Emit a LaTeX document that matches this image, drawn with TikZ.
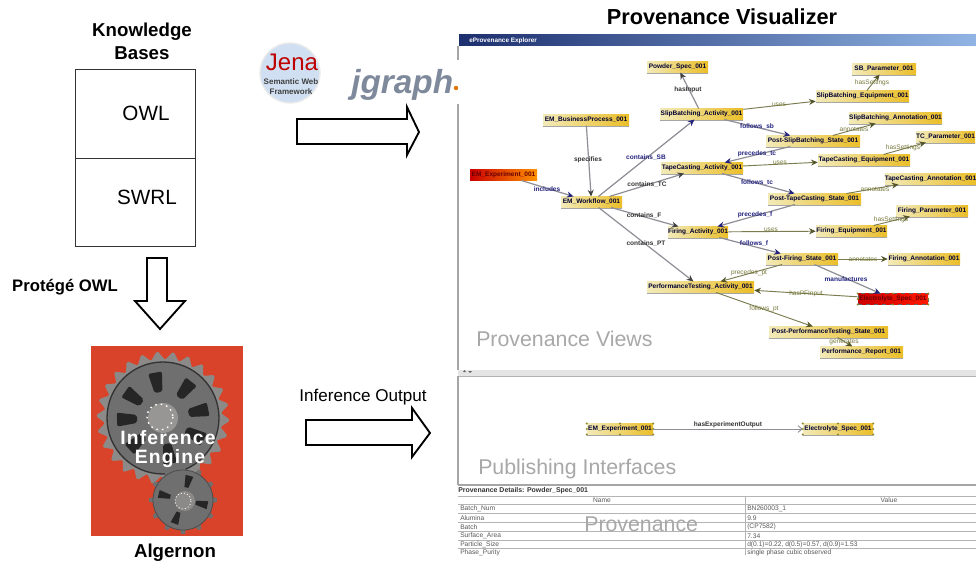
\documentclass[tikz,border=0pt]{standalone}
\usepackage{fontspec}
\setmainfont{Liberation Sans}
\usetikzlibrary{arrows.meta,calc}
\definecolor{edgegray}{HTML}{8E8E96}
\definecolor{navyink}{HTML}{23237F}
\definecolor{oliveink}{HTML}{77793A}
\definecolor{redbg}{HTML}{D8432A}
\definecolor{gearbody}{HTML}{6F6F6F}
\definecolor{geartooth}{HTML}{8C8A88}
\definecolor{faintgray}{HTML}{A8A8A8}
\definecolor{rowline}{HTML}{B4B4B4}
\definecolor{nodeleft}{HTML}{F2EAB8}
\definecolor{nodemid}{HTML}{F8E070}
\definecolor{noderight}{HTML}{EBBE28}
\definecolor{barleft}{HTML}{1C2F6E}
\definecolor{barmid}{HTML}{4468A8}
\definecolor{barright}{HTML}{90B4E4}
\definecolor{jgcolor}{HTML}{7E8A9C}
\definecolor{jenabg}{HTML}{D0E0F2}
\tikzset{
  x=0.75pt,y=-0.75pt,
  pn/.style={inner sep=0pt,minimum height=10.5*0.75pt,text=black!80!blue,
    font=\fontsize{4.9}{6}\selectfont\bfseries,shade,left color=nodeleft,middle color=nodemid,right color=noderight},
  rednode/.style={inner sep=0pt,minimum height=10.5*0.75pt,text=black!60!red,
    font=\fontsize{4.9}{6}\selectfont\bfseries,shade,left color=red!80!black,middle color=red!80!orange,right color=orange!85!yellow},
  under/.style={draw=gray!70,line width=0.5pt},
  provedge/.style={draw=edgegray,line width=0.9pt,-{Stealth[length=5pt,width=4.5pt,color=black!75]}},
  navyedge/.style={provedge,-{Stealth[length=5pt,width=4.5pt,color=navyink]}},
  oliveedge/.style={draw=oliveink!70!gray,line width=0.7pt,-{Stealth[length=5pt,width=4.5pt,color=oliveink!70!black]}},
  lab/.style={font=\fontsize{4.9}{6}\selectfont\bfseries,text=black!80,inner sep=0pt},
  labn/.style={lab,text=navyink},
  labo/.style={lab,text=oliveink,font=\fontsize{4.9}{6}\selectfont},
  title/.style={font=\fontsize{14}{17}\selectfont\bfseries,align=center,inner sep=0pt},
  boxtext/.style={font=\fontsize{15.5}{18}\selectfont,inner sep=0pt},
  ghost/.style={text=faintgray,font=\fontsize{16}{19}\selectfont,inner sep=0pt,anchor=base west},
  blockarrow/.style={draw=black,line width=1.4pt,fill=white,line join=miter},
  cell/.style={font=\fontsize{5}{6}\selectfont,text=black!65,inner sep=0pt,anchor=west},
  handle/.style={fill=olive!70!gray,draw=none},
  gearlabel/.style={font=\fontsize{14.5}{17}\selectfont\bfseries\addfontfeatures{LetterSpace=6},text=white,inner sep=0pt},
}
\newcommand{\provnode}[5]{% name, left, right, y, text
  \node[pn,minimum width={(#3-#2)*0.75pt}] (#1) at ({(#2+#3)/2},#4) {#5};
  \draw[under] ([yshift=-0.3pt]#1.south west) -- ([yshift=-0.3pt]#1.south east);
}
\newcommand{\handles}[1]{%
  \foreach \a in {north west,north,north east,west,east,south west,south,south east}
    \fill[handle] (#1.\a) circle (1.2);
}
\begin{document}
\begin{tikzpicture}
\useasboundingbox (0,0) rectangle (976,567);
\fill[white] (0,0) rectangle (976,567);

% ---------- left column
\node[title] (kb) at (142,41) {Knowledge\\Bases};
\node[draw=black!80,line width=0.7pt,minimum width=120*0.75pt,minimum height=89*0.75pt,inner sep=0pt] (owlbox) at (135,113.5) {};
\node[draw=black!80,line width=0.7pt,minimum width=120*0.75pt,minimum height=88*0.75pt,inner sep=0pt] (swrlbox) at (135,202) {};
\node[boxtext] (owl) at (146,113) {OWL};
\node[boxtext] (swrl) at (147,197) {SWRL};
\node[font=\fontsize{12.5}{15}\selectfont\bfseries,inner sep=0pt] (protege) at (65,287) {Protégé OWL};
\draw[blockarrow] (147,258) -- (167,258) -- (167,301) -- (185,301) -- (160,329) -- (135,301) -- (147,301) -- cycle;

% ---------- inference engine picture
\fill[redbg] (91,346) rectangle (243,536);
\foreach \i in {0,...,25}{
  \fill[geartooth] ({163+58*cos(\i*360/26-5)},{418+58*sin(\i*360/26-5)})
     -- ({163+66*cos(\i*360/26+1)},{418+66*sin(\i*360/26+1)})
     -- ({163+66*cos(\i*360/26+3)},{418+66*sin(\i*360/26+3)})
     -- ({163+58*cos(\i*360/26+9)},{418+58*sin(\i*360/26+9)}) -- cycle;
}
\fill[geartooth] (163,418) circle (59);
\filldraw[fill=gearbody,draw=black!80,line width=1pt] (163,418) circle (56);
\foreach \ang in {100,52,11,-28,-81,-137,182,145}{
  \fill[black!85,rounded corners=1.5pt,rotate around={\ang:(163,418)}]
     (189,414) -- (209,411) -- (209,425) -- (189,422) -- cycle;
}
\fill[geartooth!90!white] (163,418) circle (15);
\draw[white,line width=1pt,dash pattern=on 1.2pt off 3pt] (160,417) circle (13);
\foreach \i in {0,...,11}{
  \fill[gearbody] ({183+29*cos(\i*30-6)},{500+29*sin(\i*30-6)})
    -- ({183+34*cos(\i*30-3)},{500+34*sin(\i*30-3)})
    -- ({183+34*cos(\i*30+3)},{500+34*sin(\i*30+3)})
    -- ({183+29*cos(\i*30+6)},{500+29*sin(\i*30+6)}) -- cycle;
}
\filldraw[fill=gearbody,draw=black!70,line width=0.6pt] (183,500) circle (30);
\foreach \ang in {75,-12,-110,166}{
  \fill[black!85,rotate around={\ang:(183,500)}]
     (196,498) -- (208,496) -- (208,504) -- (196,502) -- cycle;
}
\fill[geartooth] (185,501) circle (10);
\draw[white!85!gray,line width=0.7pt,dash pattern=on 0.8pt off 1.6pt] (183,501) circle (8);
\node[gearlabel] (inf) at (168,437.5) {Inference};
\node[gearlabel] (eng) at (170,459) {Engine};
\node[title] (alg) at (175,553) {Algernon};

% ---------- logos
\filldraw[fill=jenabg,draw=black!8,line width=1pt] (290,73) circle (30);
\node[font=\fontsize{18}{20}\selectfont,text=red!75!black,inner sep=0pt] (jena) at (292,62) {Jena};
\node[font=\fontsize{6}{7.2}\selectfont\bfseries,align=center,text=black!75,inner sep=0pt] (jenasub) at (291,86.5) {Semantic Web\\Framework};
\node[font=\fontsize{25}{28}\selectfont\bfseries\itshape,text=jgcolor,inner sep=0pt,anchor=base west] (jg) at (351,94) {jgraph};
\fill[orange!90!black] (456,88) circle (2.2);

% ---------- block arrows
\draw[blockarrow] (297,119) -- (407,119) -- (407,107) -- (419,132) -- (407,155) -- (407,144) -- (297,144) -- cycle;
\draw[blockarrow] (306,420) -- (412,420) -- (412,408) -- (430,433) -- (412,457) -- (412,445) -- (306,445) -- cycle;
\node[font=\fontsize{12.8}{15}\selectfont,inner sep=0pt] (infout) at (363,397) {Inference Output};

% ---------- explorer window
\node[title,font=\fontsize{16.3}{19}\selectfont\bfseries] (pv) at (722,17) {Provenance Visualizer};
\shade[left color=barleft,middle color=barmid,right color=barright] (459,35) rectangle (976,46);
\node[font=\fontsize{4.8}{5}\selectfont\bfseries,text=white,inner sep=0pt,anchor=west] (wt) at (469,40.5) {eProvenance Explorer};
\draw[gray!70,line width=1pt] (458,46) -- (458,60);
\draw[gray!70,line width=1pt] (458,104) -- (458,370);
\fill[gray!20] (458,370) rectangle (976,376);
\draw[gray!60,line width=0.5pt] (458,376) -- (976,376);
\fill[black!60] (463,372) -- (466,372) -- (464.5,370) -- cycle;
\fill[black!60] (468,371) -- (472,371) -- (470,373) -- cycle;
\draw[gray!70,line width=1pt] (458,376) -- (458,485);
\draw[gray!70,line width=0.8pt] (458,485) -- (976,485);

% ---------- provenance nodes
\provnode{powder}{647}{708}{67}{Powder\_Spec\_001}
\provnode{slip}{660}{743}{114}{SlipBatching\_Activity\_001}
\provnode{bp}{543}{629}{120}{EM\_BusinessProcess\_001}
\node[rednode,minimum width=67*0.75pt] (exp) at (503.5,175) {EM\_Experiment\_001};
\provnode{wf}{561}{622}{202}{EM\_Workflow\_001}
\provnode{tape}{661}{743}{168}{TapeCasting\_Activity\_001}
\provnode{sbparam}{852}{916}{69}{SB\_Parameter\_001}
\provnode{slipeq}{816}{909}{96}{SlipBatching\_Equipment\_001}
\provnode{slipann}{849}{942}{118}{SlipBatching\_Annotation\_001}
\provnode{postslip}{766}{860}{141}{Post-SlipBatching\_State\_001}
\provnode{tcparam}{916}{975}{137}{TC\_Parameter\_001}
\provnode{tapeeq}{818}{910}{160}{TapeCasting\_Equipment\_001}
\provnode{tapeann}{886}{975}{179}{TapeCasting\_Annotation\_001}
\provnode{posttape}{768}{861}{199}{Post-TapeCasting\_State\_001}
\provnode{fparam}{896}{968}{211}{Firing\_Parameter\_001}
\provnode{firing}{668}{728}{232}{Firing\_Activity\_001}
\provnode{feq}{816}{887}{231}{Firing\_Equipment\_001}
\provnode{postf}{766}{838}{259}{Post-Firing\_State\_001}
\provnode{fann}{888}{960}{259}{Firing\_Annotation\_001}
\provnode{perf}{647}{754}{287}{PerformanceTesting\_Activity\_001}
\node[rednode,minimum width=70*0.75pt,left color=red!80!black,middle color=red!85!black,right color=red!80!orange,draw=black!60,dashed,line width=0.4pt] (espec) at (893,299) {Electrolyte\_Spec\_001};
\handles{espec}
\provnode{postperf}{769}{888}{332}{Post-PerformanceTesting\_State\_001}
\provnode{report}{820}{903}{352}{Performance\_Report\_001}
\provnode{lexp}{587}{653}{429}{EM\_Experiment\_001}
\provnode{lspec}{803}{873}{429}{Electrolyte\_Spec\_001}
\handles{lexp}
\handles{lspec}

% ---------- connectors
\draw[navyedge] (exp) -- (wf);
\draw[provedge] (bp) -- (wf);
\draw[navyedge] (wf) -- (slip);
\draw[provedge] (wf) -- (tape);
\draw[provedge] (wf) -- (firing);
\draw[provedge] (wf) -- (perf);
\draw[provedge] (slip) -- (powder);
\draw[oliveedge] (slip) -- (slipeq);
\draw[navyedge] (slip) -- (postslip);
\draw[oliveedge] (postslip) -- (slipann);
\draw[oliveedge] (slipeq) -- (sbparam);
\draw[navyedge] (postslip) -- (tape);
\draw[oliveedge] (tape) -- (tapeeq);
\draw[navyedge] (tape) -- (posttape);
\draw[oliveedge] (tapeeq) -- (tcparam);
\draw[oliveedge] (posttape) -- (tapeann);
\draw[navyedge] (posttape) -- (firing);
\draw[oliveedge] (firing) -- (feq);
\draw[navyedge] (firing) -- (postf);
\draw[oliveedge] (feq) -- (fparam);
\draw[oliveedge] (postf) -- (fann);
\draw[navyedge] (postf) -- (espec);
\draw[oliveedge] (postf) -- (perf);
\draw[oliveedge] (espec) -- (perf);
\draw[oliveedge] (perf) -- (postperf);
\draw[oliveedge] (postperf) -- (report);
\draw[provedge,line width=0.7pt,-{Straight Barb[length=3pt,width=5pt]}] (lexp) -- (lspec);

% ---------- connector labels
\node[labn] (l1) at (547,189) {includes};
\node[lab] (l2) at (588,160) {specifies};
\node[labn] (l3) at (646,158) {contains\_SB};
\node[lab] (l4) at (647,185) {contains\_TC};
\node[lab] (l5) at (644,216) {contains\_F};
\node[lab] (l6) at (646,244) {contains\_PT};
\node[lab] (l7) at (688,90) {hasInput};
\node[labo] (l8) at (779,105) {uses};
\node[labn] (l9) at (757,127) {follows\_sb};
\node[labo] (l10) at (854,129) {annotates};
\node[labo] (l11) at (872,83) {hasSettings};
\node[labn] (l12) at (757,154) {precedes\_tc};
\node[labo] (l13) at (780,163) {uses};
\node[labn] (l14) at (757,183) {follows\_tc};
\node[labo] (l15) at (903,148) {hasSettings};
\node[labo] (l16) at (875,189) {annotates};
\node[labn] (l17) at (755,215) {precedes\_f};
\node[labo] (l18) at (771,230) {uses};
\node[labn] (l19) at (754,244) {follows\_f};
\node[labo] (l20) at (891,220) {hasSettings};
\node[labo] (l21) at (863,259) {annotates};
\node[labn] (l22) at (846,279) {manufactures};
\node[labo] (l23) at (749,273) {precedes\_pt};
\node[labo] (l24) at (806,294) {hasPFInput};
\node[labo] (l25) at (764,309) {follows\_pt};
\node[labo] (l26) at (844,342) {generates};
\node[lab] (l27) at (728,425) {hasExperimentOutput};

% ---------- section captions
\node[ghost] (v1) at (476,346) {Provenance Views};
\node[ghost] (v2) at (478,474) {Publishing Interfaces};

% ---------- table
\node[font=\fontsize{5.2}{6}\selectfont\bfseries,inner sep=0pt,anchor=west,text=black!80] (td) at (458,491) {Provenance Details: Powder\_Spec\_001};
\foreach \yy in {496,504,513,522,531,540,548}
  \draw[rowline,line width=0.5pt] (458,\yy) -- (976,\yy);
\draw[rowline,line width=0.5pt] (745,496) -- (745,555);
\node[cell,anchor=center] (h1) at (602,500.5) {Name};
\node[cell,anchor=center] (h2) at (889,500.5) {Value};
\node[cell] (a1) at (460,509) {Batch\_Num};
\node[cell] (a2) at (460,518) {Alumina};
\node[cell] (a3) at (460,527) {Batch};
\node[cell] (a4) at (460,536) {Surface\_Area};
\node[cell] (a5) at (460,545) {Particle\_Size};
\node[cell] (a6) at (460,553) {Phase\_Purity};
\node[cell] (b1) at (747,509) {BN260003\_1};
\node[cell] (b2) at (747,518) {9.9};
\node[cell] (b3) at (747,527) {(CP7582)};
\node[cell] (b4) at (747,536) {7.34};
\node[cell] (b5) at (747,545) {d(0.1)=0.22, d(0.5)=0.57, d(0.9)=1.53};
\node[cell] (b6) at (747,553) {single phase cubic observed};
\node[ghost] (v3) at (584,531) {Provenance};
\end{tikzpicture}
\end{document}
